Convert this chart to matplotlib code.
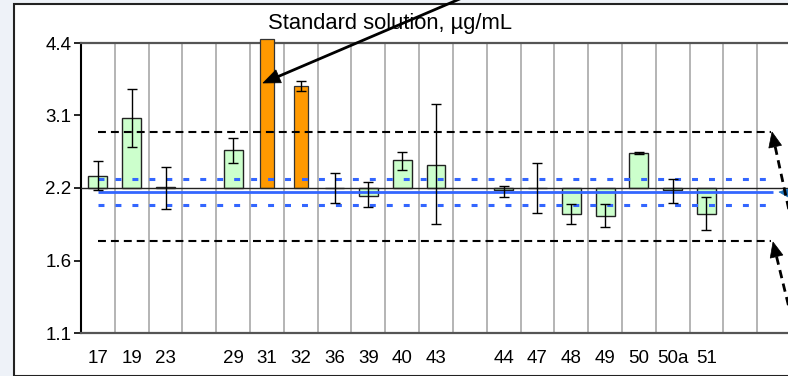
import numpy as np
import matplotlib
matplotlib.use("Agg")
import matplotlib.pyplot as plt
from matplotlib.patches import Rectangle, Polygon
from matplotlib.lines import Line2D

plt.rcParams['font.family'] = ['Liberation Sans', 'DejaVu Sans']

# ---- data ----
labs = ["17", "19", "23", "", "29", "31", "32", "36", "39", "40", "43", "",
        "44", "47", "48", "49", "50", "50a", "51", "", ""]
values = [2.33, 3.08, 2.21, np.nan, 2.635, 4.49, 3.58, 2.20, 2.12, 2.51, 2.46, np.nan,
          2.176, 2.20, 1.94, 1.927, 2.60, 2.18, 1.94, np.nan, np.nan]
err_low = [2.18, 2.68, 1.99, np.nan, 2.48, np.nan, 3.505, 2.05, 2.01, 2.40, 1.855, np.nan,
           2.11, 1.955, 1.855, 1.825, 2.585, 2.05, 1.80, np.nan, np.nan]
err_high = [2.50, 3.53, 2.43, np.nan, 2.80, np.nan, 3.674, 2.36, 2.26, 2.61, 3.29, np.nan,
            2.224, 2.48, 2.04, 2.04, 2.615, 2.30, 2.11, np.nan, np.nan]
flagged = ["31", "32"]
baseline = 2.2
assigned = 2.158
inner_limits = [2.028, 2.297]
outer_limits = [1.708, 2.876]
ytick_vals = [1.1, 2.2 / np.sqrt(2), 2.2, 2.2 * np.sqrt(2), 4.4]
ytick_labels = ["1.1", "1.6", "2.2", "3.1", "4.4"]
title_text = "Standard solution, µg/mL"

W, H = 788, 376
fig = plt.figure(figsize=(W / 100, H / 100), dpi=100)
fig.patch.set_facecolor('#eef2f8')

# white frame (drawn behind the axes)
fig.patches.append(Rectangle((14 / W, 0.5 / H), (W + 10) / W, (H - 4.5) / H,
                             transform=fig.transFigure, facecolor='white',
                             edgecolor='#222222', lw=1.5, zorder=-10))

ax = fig.add_axes([81 / W, (H - 333) / H, 710 / W, 290 / H])
ax.set_facecolor('none')
ax.set_yscale('log')
ax.set_ylim(1.1, 4.4)
ax.set_xlim(0, len(labs))

x = np.arange(len(labs)) + 0.5
for xi, lab, v, lo, hi in zip(x, labs, values, err_low, err_high):
    if np.isnan(v):
        continue
    if lab in flagged:
        ax.bar(xi, v - baseline, bottom=baseline, width=0.4, color='#ff9900',
               edgecolor='#333333', lw=0.9, zorder=3, clip_on=False)
    else:
        ax.bar(xi, v - baseline, bottom=baseline, width=0.56, color='#ccffcc',
               edgecolor='#222222', lw=1.0, zorder=3)
    if not np.isnan(lo):
        ax.errorbar(xi, v, yerr=[[v - lo], [hi - v]], fmt='none', ecolor='black',
                    elinewidth=1.0, capsize=3.8, capthick=1.0, zorder=5)

# gridlines at slot boundaries
for b in range(1, len(labs)):
    ax.axvline(b, color='#b4b4b4', lw=1.4, zorder=1)

ax.axhline(baseline, color='#222222', lw=1.0, zorder=4)
ax.hlines(assigned, 0.5, 20.47, color='#3366ff', lw=2.0, zorder=4)
for yv in inner_limits:
    ax.hlines(yv, 0.5, 20.3, color='#3366ff', lw=2.2, linestyles=(0, (1.95, 3.6)), zorder=4)
for yv in outer_limits:
    ax.hlines(yv, 0.5, 20.4, color='black', lw=1.5, linestyles=(0, (3.8, 2.4)), zorder=4)

ax.set_yticks(ytick_vals)
ax.set_yticklabels(ytick_labels)
ax.yaxis.set_minor_locator(matplotlib.ticker.NullLocator())
ax.set_xticks(x)
ax.set_xticklabels(labs)
ax.tick_params(axis='x', length=0, pad=12, labelsize=13.5)
ax.tick_params(axis='y', length=5, width=1.2, pad=2, labelsize=13.5, direction='out')
ax.spines['left'].set_color('black')
ax.spines['left'].set_linewidth(1.5)
for s in ['top', 'bottom']:
    ax.spines[s].set_color('#555555')
    ax.spines[s].set_linewidth(1.6)
ax.spines['right'].set_visible(False)

# annotations in figure pixels (origin top-left as in the image)
def F(px, py):
    return (px / W, 1 - py / H)

def head(tip, tail, color, length=15, half=7):
    (tx, ty), (sx, sy) = tip, tail
    d = np.hypot(sx - tx, sy - ty)
    ux, uy = (sx - tx) / d, (sy - ty) / d
    bx, by = tx + ux * length, ty + uy * length
    p1 = (bx - uy * half, by + ux * half)
    p2 = (bx + uy * half, by - ux * half)
    fig.add_artist(Polygon([F(tx, ty), F(*p1), F(*p2)], closed=True,
                           transform=fig.transFigure, facecolor=color,
                           edgecolor=color, lw=0.5))
    return bx, by

fig.text(390 / W, 1 - 23 / H, title_text, ha='center', va='center', fontsize=15.8)

# arrow from the title to the orange bar
bx, by = head((263, 83), (462, -2), 'black', length=17, half=7)
fig.add_artist(Line2D([F(bx, by)[0], F(462, -2)[0]], [F(bx, by)[1], F(462, -2)[1]],
                      transform=fig.transFigure, color='black', lw=2.0))

def dashed_arrow(tip, tail, color='black'):
    bx, by = head(tip, tail, color, length=15, half=6.5)
    fig.add_artist(Line2D([F(bx, by)[0], F(*tail)[0]], [F(bx, by)[1], F(*tail)[1]],
                          transform=fig.transFigure, color=color, lw=2.0,
                          linestyle=(0, (3, 2))))

dashed_arrow((772, 132), (790, 215))
dashed_arrow((773, 242), (792, 320))
head((779, 192), (800, 194), '#1a6fb8', length=16, half=7)

fig.savefig('out.png', dpi=100, facecolor=fig.get_facecolor())
